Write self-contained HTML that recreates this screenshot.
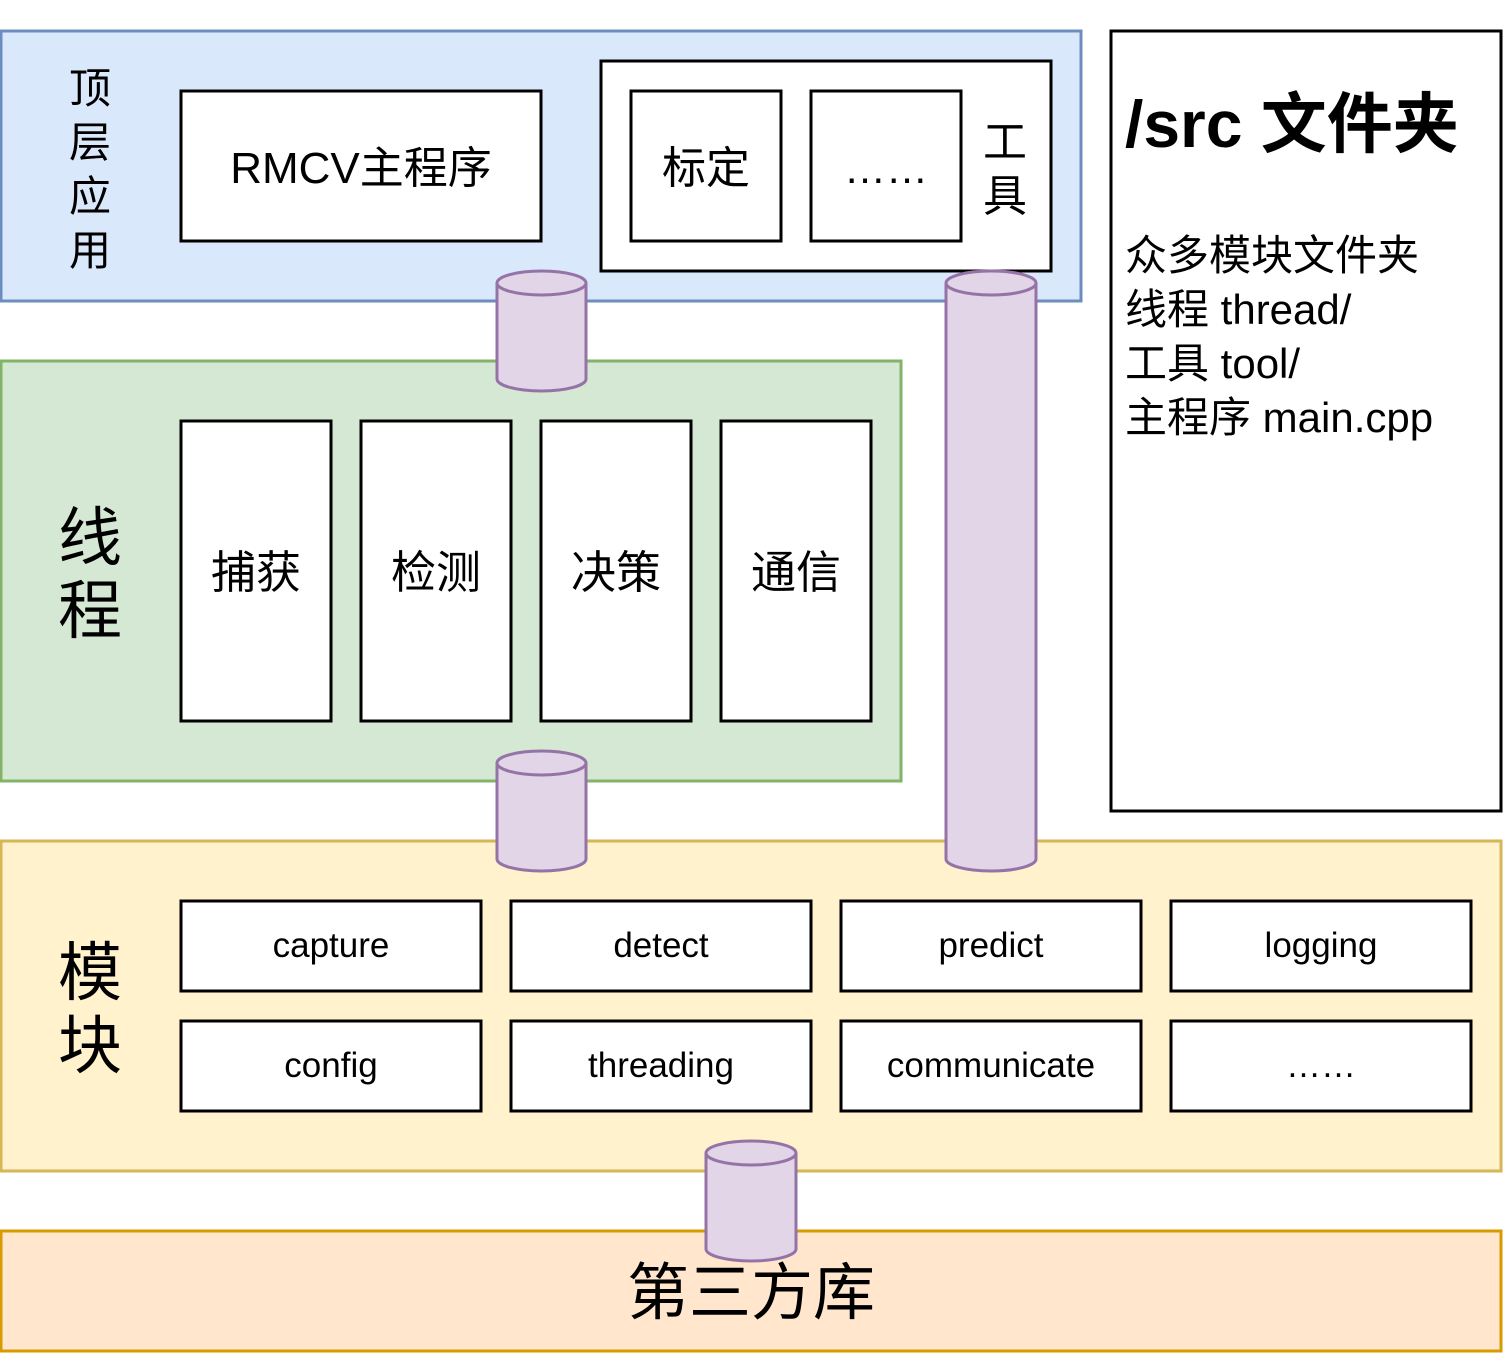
<!DOCTYPE html>
<html><head><meta charset="utf-8"><style>
html,body{margin:0;padding:0;background:#fff;}
svg{display:block;}
text{font-family:"Liberation Sans","Noto Sans CJK SC",sans-serif;fill:#000;}
</style></head><body>
<svg width="1503" height="1353" viewBox="0 0 1503 1353" xmlns="http://www.w3.org/2000/svg">
<rect x="1" y="31" width="1080" height="270" fill="#dae8fc" stroke="#6c8ebf" stroke-width="3"/>
<g font-size="42" text-anchor="middle">
<text x="90" y="103">顶</text><text x="90" y="157">层</text><text x="90" y="211">应</text><text x="90" y="265">用</text>
</g>
<rect x="181" y="91" width="360" height="150" fill="#fff" stroke="#000" stroke-width="3"/>
<text x="361" y="183" font-size="44" text-anchor="middle">RMCV主程序</text>
<rect x="601" y="61" width="450" height="210" fill="#fff" stroke="#000" stroke-width="3"/>
<rect x="631" y="91" width="150" height="150" fill="#fff" stroke="#000" stroke-width="3"/>
<text x="706" y="183" font-size="44" text-anchor="middle">标定</text>
<rect x="811" y="91" width="150" height="150" fill="#fff" stroke="#000" stroke-width="3"/>
<text x="886" y="183" font-size="42" text-anchor="middle">……</text>
<text x="1005" y="157" font-size="44" text-anchor="middle">工</text>
<text x="1005" y="211" font-size="44" text-anchor="middle">具</text>
<rect x="1111" y="31" width="390" height="780" fill="#fff" stroke="#000" stroke-width="3"/>
<text x="1125" y="147" font-size="66" font-weight="bold">/src 文件夹</text>
<g font-size="42">
<text x="1125" y="270">众多模块文件夹</text>
<text x="1125" y="324">线程 thread/</text>
<text x="1125" y="378">工具 tool/</text>
<text x="1125" y="432">主程序 main.cpp</text>
</g>
<rect x="1" y="361" width="900" height="420" fill="#d5e8d4" stroke="#82b366" stroke-width="3"/>
<text x="90" y="560" font-size="64" text-anchor="middle">线</text>
<text x="90" y="633" font-size="64" text-anchor="middle">程</text>
<g font-size="45" text-anchor="middle">
<rect x="181" y="421" width="150" height="300" fill="#fff" stroke="#000" stroke-width="3"/><text x="256" y="588">捕获</text>
<rect x="361" y="421" width="150" height="300" fill="#fff" stroke="#000" stroke-width="3"/><text x="436" y="588">检测</text>
<rect x="541" y="421" width="150" height="300" fill="#fff" stroke="#000" stroke-width="3"/><text x="616" y="588">决策</text>
<rect x="721" y="421" width="150" height="300" fill="#fff" stroke="#000" stroke-width="3"/><text x="796" y="588">通信</text>
</g>
<rect x="1" y="841" width="1500" height="330" fill="#fff2cc" stroke="#d6b656" stroke-width="3"/>
<text x="90" y="995" font-size="64" text-anchor="middle">模</text>
<text x="90" y="1068" font-size="64" text-anchor="middle">块</text>
<g font-size="35" text-anchor="middle">
<rect x="181" y="901" width="300" height="90" fill="#fff" stroke="#000" stroke-width="3"/><text x="331" y="957">capture</text>
<rect x="511" y="901" width="300" height="90" fill="#fff" stroke="#000" stroke-width="3"/><text x="661" y="957">detect</text>
<rect x="841" y="901" width="300" height="90" fill="#fff" stroke="#000" stroke-width="3"/><text x="991" y="957">predict</text>
<rect x="1171" y="901" width="300" height="90" fill="#fff" stroke="#000" stroke-width="3"/><text x="1321" y="957">logging</text>
<rect x="181" y="1021" width="300" height="90" fill="#fff" stroke="#000" stroke-width="3"/><text x="331" y="1077">config</text>
<rect x="511" y="1021" width="300" height="90" fill="#fff" stroke="#000" stroke-width="3"/><text x="661" y="1077">threading</text>
<rect x="841" y="1021" width="300" height="90" fill="#fff" stroke="#000" stroke-width="3"/><text x="991" y="1077">communicate</text>
<rect x="1171" y="1021" width="300" height="90" fill="#fff" stroke="#000" stroke-width="3"/><text x="1321" y="1077">……</text>
</g>
<rect x="1" y="1231" width="1500" height="120" fill="#ffe6cc" stroke="#d79b00" stroke-width="3"/>
<text x="751" y="1314" font-size="62" text-anchor="middle">第三方库</text>
<g fill="#e1d5e7" stroke="#9673a6" stroke-width="3">
<path d="M497 283 A44.5 12 0 0 1 586 283 L586 379 A44.5 12 0 0 1 497 379 Z"/><path d="M497 283 A44.5 12 0 0 0 586 283" fill="none"/>
<path d="M497 763 A44.5 12 0 0 1 586 763 L586 859 A44.5 12 0 0 1 497 859 Z"/><path d="M497 763 A44.5 12 0 0 0 586 763" fill="none"/>
<path d="M946 283 A45 12 0 0 1 1036 283 L1036 859 A45 12 0 0 1 946 859 Z"/><path d="M946 283 A45 12 0 0 0 1036 283" fill="none"/>
<path d="M706 1153 A45 12 0 0 1 796 1153 L796 1249 A45 12 0 0 1 706 1249 Z"/><path d="M706 1153 A45 12 0 0 0 796 1153" fill="none"/>
</g>
</svg>
</body></html>
